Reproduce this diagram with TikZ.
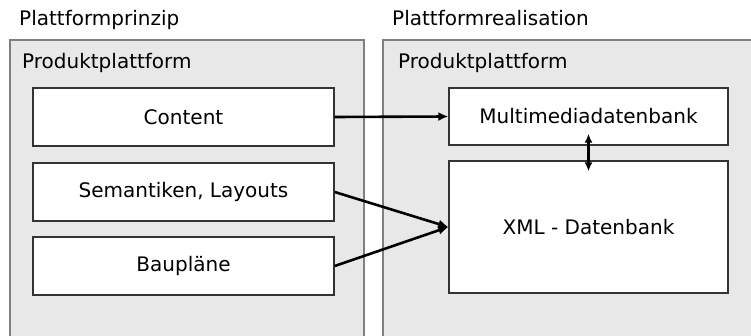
\documentclass[tikz,border=0pt]{standalone}
\usepackage{fontspec}
\setmainfont{DejaVu Sans}
\usetikzlibrary{arrows.meta}
\definecolor{panelgray}{HTML}{E8E8E8}
\definecolor{panelline}{HTML}{808080}
\definecolor{boxline}{HTML}{333333}
\tikzset{
	box/.style={draw=boxline,line width=1.4pt,fill=white,inner sep=0pt,
		font=\fontsize{20}{24}\selectfont},
	panel/.style={draw=panelline,fill=panelgray,line width=2pt},
	heading/.style={anchor=base west,inner sep=0pt,font=\fontsize{20}{24}\selectfont},
	link/.style={line width=2.6pt,-{Latex[length=10pt,width=9pt]}}
}
\begin{document}
\begin{tikzpicture}[x=1pt,y=-1pt]
		\useasboundingbox (0,0) rectangle (751,336);
		\clip (0,0) rectangle (751,336);
		\fill [white] (0,0) rectangle (751,336);
		% panels
		\draw [panel] (10,40) rectangle (364,400);
		\draw [panel] (383,40) rectangle (800,400);
		\node [heading] (prinzip) at (19,26) {Plattformprinzip};
		\node [heading] (realisierung) at (392,26) {Plattformrealisation};
		\node [heading] (pp1) at (22,69) {Produktplattform};
		\node [heading] (pp2) at (398,69) {Produktplattform};
		% left side
		\node [box,minimum width=301pt,minimum height=58pt] (content) at (183.5,117) {Content};
		\node [box,minimum width=301pt,minimum height=58pt] (semantik) at (183.5,192) {Semantiken, Layouts};
		\node [box,minimum width=301pt,minimum height=58pt] (bauplan) at (183.5,266) {Baupläne};
		% right side
		\node [box,minimum width=279pt,minimum height=57pt] (mmdb) at (588.5,116.5) {Multimediadatenbank};
		\node [box,minimum width=279pt,minimum height=132pt] (xmldb) at (588.5,227) {XML - Datenbank};
		% links
		\draw [link] (content.east) -- (mmdb.west);
		\draw [link] (semantik.east) -- (xmldb.west);
		\draw [link] (bauplan.east) -- (xmldb.west);
		\draw [line width=2.2pt,shorten <=-12pt,shorten >=-11pt,
			{Latex[length=9pt,width=8pt]}-{Latex[length=9pt,width=8pt]}] (mmdb.south) -- (xmldb.north);
\end{tikzpicture}
\end{document}
